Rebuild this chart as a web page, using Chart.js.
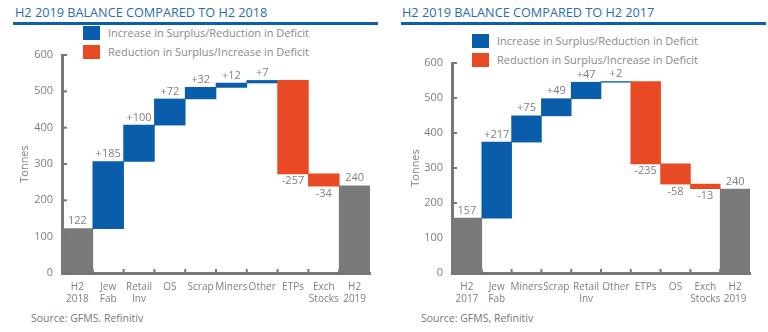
<!DOCTYPE html>
<html>
<head>
<meta charset="utf-8">
<script src="https://cdn.jsdelivr.net/npm/chart.js@4.4.1/dist/chart.umd.min.js"></script>
<style>
  body { margin: 0; width: 768px; height: 332px; background: #fff; position: relative; overflow: hidden; font-family: "Open Sans", sans-serif; }
  .title { position: absolute; top: 3px; font-size: 12.7px; color: #2a6bb0; white-space: nowrap; letter-spacing: 0; }
  .rule { position: absolute; top: 22px; height: 3px; background: #0d5fad; }
  .leg { position: absolute; font-size: 11px; color: #8a8a8a; white-space: nowrap; }
  .leg span.box { position: absolute; left: 0; top: 0; width: 17px; height: 14px; }
  .leg span.txt { position: absolute; left: 25px; top: 0px; line-height: 14px; }
  .src { position: absolute; top: 311px; font-size: 10.5px; color: #777; white-space: nowrap; }
  .wrap { position: absolute; top: 0; width: 384px; height: 310px; }
</style>
</head>
<body>
<div class="title" style="left:15px">H2 2019 BALANCE COMPARED TO H2 2018</div>
<div class="rule" style="left:13px; width:365px"></div>
<div class="leg" style="left:83px; top:26px"><span class="box" style="background:#0a5dab"></span><span class="txt">Increase in Surplus/Reduction in Deficit</span></div>
<div class="leg" style="left:83px; top:45px"><span class="box" style="background:#e84b24"></span><span class="txt">Reduction in Surplus/Increase in Deficit</span></div>
<div class="wrap" style="left:0"><canvas id="chartA"></canvas></div>
<div class="src" style="left:31px">Source: GFMS. Refinitiv</div>

<div class="title" style="left:402px">H2 2019 BALANCE COMPARED TO H2 2017</div>
<div class="rule" style="left:401px; width:365px"></div>
<div class="leg" style="left:472px; top:34px"><span class="box" style="background:#0a5dab"></span><span class="txt">Increase in Surplus/Reduction in Deficit</span></div>
<div class="leg" style="left:472px; top:53px"><span class="box" style="background:#e84b24"></span><span class="txt">Reduction in Surplus/Increase in Deficit</span></div>
<div class="wrap" style="left:384px"><canvas id="chartB"></canvas></div>
<div class="src" style="left:421px">Source: GFMS, Refinitiv</div>

<script>
// Data: first and last are totals, the rest are changes
const labelsA = [["H2","2018"],["Jew","Fab"],["Retail","Inv"],"OS","Scrap","Miners","Other","ETPs",["Exch","Stocks"],["H2","2019"]];
const valuesA = [122, 185, 100, 72, 32, 12, 7, -257, -34, 240];

const labelsB = [["H2","2017"],["Jew","Fab"],"Miners","Scrap",["Retail","Inv"],"Other","ETPs","OS",["Exch","Stocks"],["H2","2019"]];
const valuesB = [157, 217, 75, 49, 47, 2, -235, -58, -13, 240];

const yTicks = [0, 100, 200, 300, 400, 500, 600];

const BLUE = "#0a5dab";
const RED = "#e84b24";
const GREY = "#7a7a7a";
const TXT = "#7f7f7f";

// build floating bars [start, end] from the values
function buildBars(values) {
	let bars = [];
	let colors = [];
	let texts = [];
	let run = 0;
	values.forEach((v, i) => {
		if (i == 0 || i == values.length - 1) {
			bars.push([0, v]);
			colors.push(GREY);
			texts.push(String(v));
			run = v;
		} else {
			bars.push([run, run + v]);
			colors.push(v >= 0 ? BLUE : RED);
			texts.push(v >= 0 ? "+" + v : String(v));
			run = run + v;
		}
	});
	return {bars: bars, colors: colors, texts: texts};
}

// labels above rising bars, below falling bars
const barLabels = {
	id: "barLabels",
	afterDatasetsDraw(chart) {
		const ctx = chart.ctx;
		const meta = chart.getDatasetMeta(0);
		const texts = chart.options.plugins.barLabels.texts;
		const vals = chart.options.plugins.barLabels.values;
		ctx.save();
		ctx.font = "11px 'Open Sans', sans-serif";
		ctx.fillStyle = TXT;
		ctx.textAlign = "center";
		meta.data.forEach((el, i) => {
			const top = Math.min(el.y, el.base);
			const bottom = Math.max(el.y, el.base);
			if (vals[i] < 0 && i != 0 && i != vals.length - 1) {
				ctx.textBaseline = "top";
				ctx.fillText(texts[i], el.x, bottom + 2);
			} else {
				ctx.textBaseline = "bottom";
				ctx.fillText(texts[i], el.x, top - 2);
			}
		});
		ctx.restore();
	}
};

// small inward ticks on both axes
const innerTicks = {
	id: "innerTicks",
	afterDraw(chart) {
		const ctx = chart.ctx;
		const x = chart.scales.x;
		const y = chart.scales.y;
		const area = chart.chartArea;
		ctx.save();
		ctx.strokeStyle = "#777";
		ctx.lineWidth = 2;
		y.ticks.forEach(t => {
			const py = y.getPixelForValue(t.value);
			ctx.beginPath();
			ctx.moveTo(area.left, py);
			ctx.lineTo(area.left + 5, py);
			ctx.stroke();
		});
		const n = x.ticks.length;
		for (let i = 1; i < n; i++) {
			const px = (x.getPixelForTick(i - 1) + x.getPixelForTick(i)) / 2;
			ctx.beginPath();
			ctx.moveTo(px, area.bottom);
			ctx.lineTo(px, area.bottom - 4);
			ctx.stroke();
		}
		ctx.restore();
	}
};

function makeChart(id, labels, values, yWidth, padTop, padRight, titlePad) {
	const b = buildBars(values);
	return new Chart(document.getElementById(id), {
		type: "bar",
		data: {
			labels: labels,
			datasets: [{
				data: b.bars,
				backgroundColor: b.colors,
				borderWidth: 0,
				barPercentage: 1,
				categoryPercentage: 1
			}]
		},
		options: {
			responsive: true,
			maintainAspectRatio: false,
			animation: false,
			layout: { padding: { top: padTop, right: padRight, left: 0, bottom: 0 } },
			plugins: {
				legend: { display: false },
				tooltip: { enabled: false },
				barLabels: { texts: b.texts, values: values }
			},
			scales: {
				x: {
					grid: { display: false, drawTicks: false },
					border: { display: true, color: "#777", width: 3 },
					ticks: { color: TXT, font: { size: 10, family: "'Open Sans', sans-serif" }, maxRotation: 0, autoSkip: false, padding: 8 },
					afterFit(scale) { scale.height = 37; }
				},
				y: {
					min: 0,
					max: 600,
					afterBuildTicks(scale) { scale.ticks = yTicks.map(v => ({value: v})); },
					grid: { display: false, drawTicks: false },
					border: { display: true, color: "#777", width: 3 },
					ticks: { color: TXT, font: { size: 11, family: "'Open Sans', sans-serif" }, padding: 9 },
					title: { display: true, text: "Tonnes", color: TXT, font: { size: 11, family: "'Open Sans', sans-serif" }, padding: { top: titlePad, bottom: 0 } },
					afterFit(scale) { scale.width = yWidth; }
				}
			}
		},
		plugins: [barLabels, innerTicks]
	});
}

makeChart("chartA", labelsA, valuesA, 62, 55, 14, 18);
makeChart("chartB", labelsB, valuesB, 68, 63, 18, 25);
</script>
</body>
</html>
